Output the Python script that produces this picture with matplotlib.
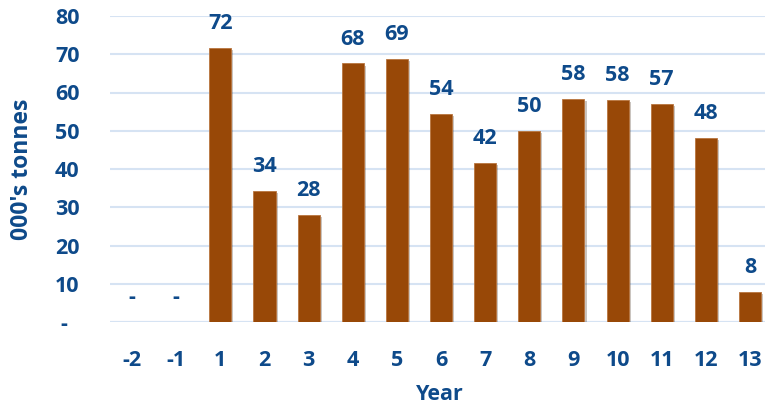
import matplotlib
matplotlib.use("Agg")
import matplotlib.pyplot as plt
import matplotlib.patheffects as pe

categories = ["-2", "-1", "1", "2", "3", "4", "5", "6", "7", "8", "9", "10", "11", "12", "13"]
values = [0, 0, 71.6, 34.3, 28.0, 67.6, 68.8, 54.4, 41.6, 49.9, 58.4, 58.0, 57.0, 48.1, 7.8]
yticks = [0, 10, 20, 30, 40, 50, 60, 70, 80]
ytick_labels = ["-  ", "10", "20", "30", "40", "50", "60", "70", "80"]

BLUE = "#0E4A8A"
BAR = "#984807"
GRID = "#D6E3F3"
FONT = "Open Sans"

fig = plt.figure(figsize=(7.65, 4.09), dpi=100)
W, H = 765, 409
left, right, top, bottom = 110, 772, 16, 322
ax = fig.add_axes([left / W, 1 - bottom / H, (right - left) / W, (bottom - top) / H])

x = list(range(len(categories)))
bars = ax.bar(x, values, width=0.5, color=BAR, edgecolor="#B8753F", linewidth=0.6, zorder=3,
              path_effects=[pe.SimplePatchShadow(offset=(1.5, -1.5), alpha=0.25), pe.Normal()])

for xi, v in zip(x, values):
    label = "-" if v == 0 else f"{v:.0f}"
    ax.annotate(label, (xi, v), xytext=(0, 10), textcoords="offset points",
                ha="center", va="bottom", color=BLUE, fontsize=15.5,
                fontweight="bold", family=FONT)

ax.set_xlim(-0.5, len(categories) - 0.5)
ax.set_ylim(0, 80)
ax.set_yticks(yticks)
ax.set_yticklabels(ytick_labels)
ax.set_xticks(x)
ax.set_xticklabels(categories)
ax.grid(axis="y", color=GRID, linewidth=1.5, zorder=0)
for s in ax.spines.values():
    s.set_visible(False)
ax.axhline(0, color=GRID, linewidth=1.5, zorder=2)
ax.tick_params(axis="both", length=0, colors=BLUE, labelsize=15.5)
ax.tick_params(axis="y", pad=22)
ax.tick_params(axis="x", pad=20)
for lab in ax.get_xticklabels() + ax.get_yticklabels():
    lab.set_fontweight("bold")
    lab.set_family(FONT)

fig.text(22 / W, 1 - 169 / H, "000's tonnes", rotation=90, ha="center", va="center",
         color=BLUE, fontsize=16.5, fontweight="bold", family=FONT)
fig.text(440 / W, 1 - 395 / H, "Year", ha="center", va="center",
         color=BLUE, fontsize=15.5, fontweight="bold", family=FONT)

fig.savefig("out.png", dpi=100)
